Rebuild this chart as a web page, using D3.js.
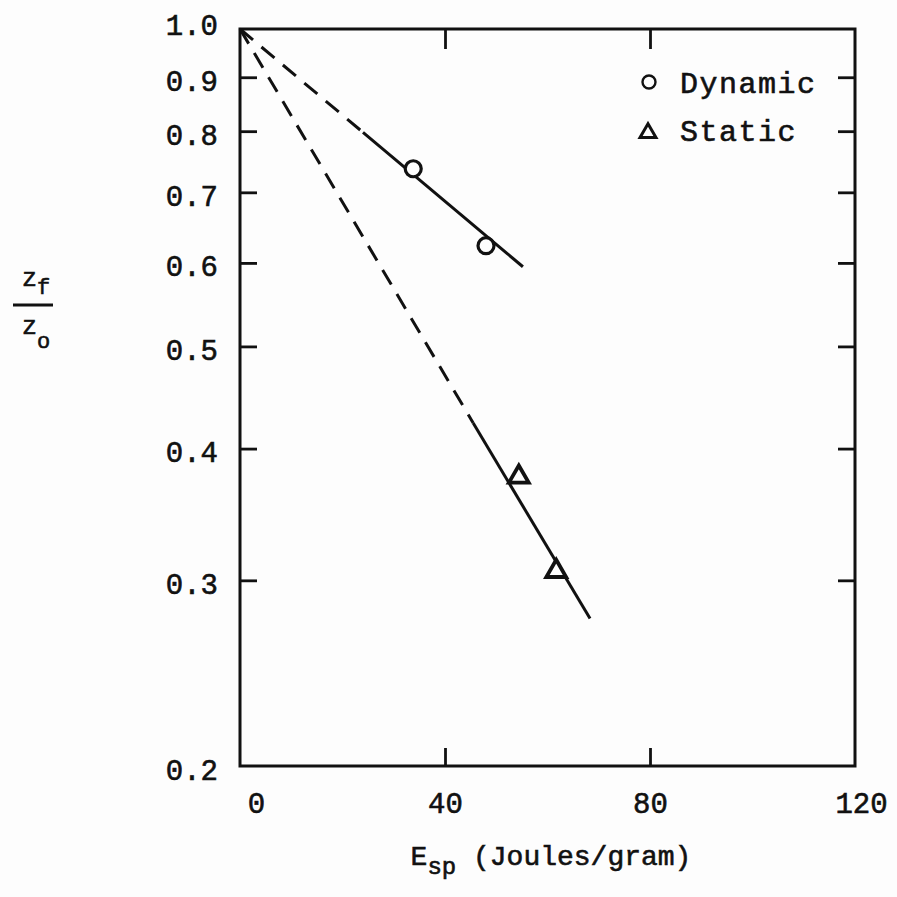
<!DOCTYPE html>
<html>
<head>
<meta charset="utf-8">
<script src="https://cdn.jsdelivr.net/npm/d3@7"></script>
<style>
  body { margin: 0; background: #fdfdfd; }
  text { font-family: "Liberation Mono", "DejaVu Sans Mono", monospace; fill: #111; stroke: #111; stroke-width: 0.6px; }
</style>
</head>
<body>
<svg id="chart" width="897" height="897"></svg>
<script>
// values
var dynamicE = [33.8, 48.0];
var dynamicZ = [0.737, 0.623];
var staticE = [54.4, 61.7];
var staticZ = [0.376, 0.306];

// hand-drawn fit lines (end points), dashed part then solid part
var dynDashE = [0, 24];
var dynDashZ = [1.0, 0.798];
var dynSolidE = [24, 55.2];
var dynSolidZ = [0.798, 0.595];
var statDashE = [0, 45.5];
var statDashZ = [1.0, 0.423];
var statSolidE = [45.5, 68.3];
var statSolidZ = [0.423, 0.276];

var xTicks = [0, 40, 80, 120];
var yTicks = [0.2, 0.3, 0.4, 0.5, 0.6, 0.7, 0.8, 0.9, 1.0];
var yInner = [0.3, 0.4, 0.5, 0.6, 0.7, 0.8, 0.9];

var svg = d3.select("#chart");
var x = d3.scaleLinear().domain([0, 120]).range([240, 855]);
var y = d3.scaleLog().domain([0.2, 1]).range([766, 29]);
var ink = "#111";

// axes (ticks pointing inward)
var gl = svg.append("g").attr("transform", "translate(240,0)")
  .call(d3.axisLeft(y).tickValues(yTicks).tickSize(-17).tickPadding(22)
    .tickFormat(function(d){ return d3.format(".1f")(d); }));
gl.selectAll(".tick line").filter(function(d){ return d == 0.2 || d == 1; }).remove();
gl.selectAll("text").attr("font-size", 29).attr("font-family", "Liberation Mono")
  .attr("dy", function(d){ return d == 1 ? "0.2em" : "0.45em"; });

svg.append("g").attr("transform", "translate(855,0)")
  .call(d3.axisRight(y).tickValues(yInner).tickSize(-17).tickFormat(""));

var gb = svg.append("g").attr("transform", "translate(0,766)")
  .call(d3.axisBottom(x).tickValues(xTicks).tickSize(-18).tickPadding(26)
    .tickFormat(d3.format("d")));
gb.selectAll(".tick line").filter(function(d){ return d == 0 || d == 120; }).remove();
gb.selectAll("text").attr("font-size", 29).attr("font-family", "Liberation Mono")
  .attr("x", function(d){ return d == 0 ? 16 : (d == 120 ? 6 : 0); });

svg.append("g").attr("transform", "translate(0,29)")
  .call(d3.axisTop(x).tickValues([40, 80]).tickSize(-20).tickFormat(""));

svg.selectAll(".domain").remove();
svg.selectAll(".tick line").attr("stroke", ink).attr("stroke-width", 2.8);

// frame
svg.append("rect").attr("x", x(0)).attr("y", y(1))
  .attr("width", x(120) - x(0)).attr("height", y(0.2) - y(1))
  .attr("fill", "none").attr("stroke", ink).attr("stroke-width", 3);

// fit lines
var line = d3.line().x(function(d){ return x(d[0]); }).y(function(d){ return y(d[1]); });
function seg(es, zs, dashed) {
  svg.append("path").datum(d3.zip(es, zs)).attr("d", line)
    .attr("fill", "none").attr("stroke", ink).attr("stroke-width", 3)
    .attr("stroke-dasharray", dashed ? "17,11" : null);
}
seg(dynDashE, dynDashZ, true);
seg(dynSolidE, dynSolidZ, false);
seg(statDashE, statDashZ, true);
seg(statSolidE, statSolidZ, false);

// markers
svg.selectAll("circle.dyn").data(d3.zip(dynamicE, dynamicZ)).enter().append("circle")
  .attr("cx", function(d){ return x(d[0]); }).attr("cy", function(d){ return y(d[1]); })
  .attr("r", 8).attr("fill", "#fdfdfd").attr("stroke", ink).attr("stroke-width", 3.2);

var tri = d3.symbol().type(d3.symbolTriangle).size(170);
svg.selectAll("path.stat").data(d3.zip(staticE, staticZ)).enter().append("path")
  .attr("d", tri)
  .attr("transform", function(d){ return "translate(" + x(d[0]) + "," + y(d[1]) + ")"; })
  .attr("fill", "#fdfdfd").attr("stroke", ink).attr("stroke-width", 3.8)
  .attr("stroke-linejoin", "miter");

// legend
svg.append("circle").attr("cx", 649).attr("cy", 82).attr("r", 6.5)
  .attr("fill", "none").attr("stroke", ink).attr("stroke-width", 2.4);
svg.append("path").attr("d", d3.symbol().type(d3.symbolTriangle).size(110))
  .attr("transform", "translate(648,133)")
  .attr("fill", "none").attr("stroke", ink).attr("stroke-width", 3);
svg.append("text").attr("x", 680).attr("y", 93).attr("font-size", 30)
  .attr("letter-spacing", 1.5).text("Dynamic");
svg.append("text").attr("x", 680).attr("y", 141).attr("font-size", 30)
  .attr("letter-spacing", 1.5).text("Static");

// x label
var xl = svg.append("text").attr("x", 551).attr("y", 865).attr("font-size", 28)
  .attr("text-anchor", "middle");
xl.append("tspan").text("E");
xl.append("tspan").attr("dy", 9).attr("font-size", 24).text("sp");
xl.append("tspan").attr("dy", -9).text(" (Joules/gram)");

// y label: z_f over z_o
var yl1 = svg.append("text").attr("x", 22).attr("y", 286).attr("font-size", 25);
yl1.append("tspan").text("z");
yl1.append("tspan").attr("dy", 8).attr("font-size", 22).text("f");
svg.append("line").attr("x1", 13).attr("x2", 53).attr("y1", 305).attr("y2", 305)
  .attr("stroke", ink).attr("stroke-width", 3);
var yl2 = svg.append("text").attr("x", 22).attr("y", 334).attr("font-size", 25);
yl2.append("tspan").text("z");
yl2.append("tspan").attr("dy", 14).attr("font-size", 22).text("o");
</script>
</body>
</html>
